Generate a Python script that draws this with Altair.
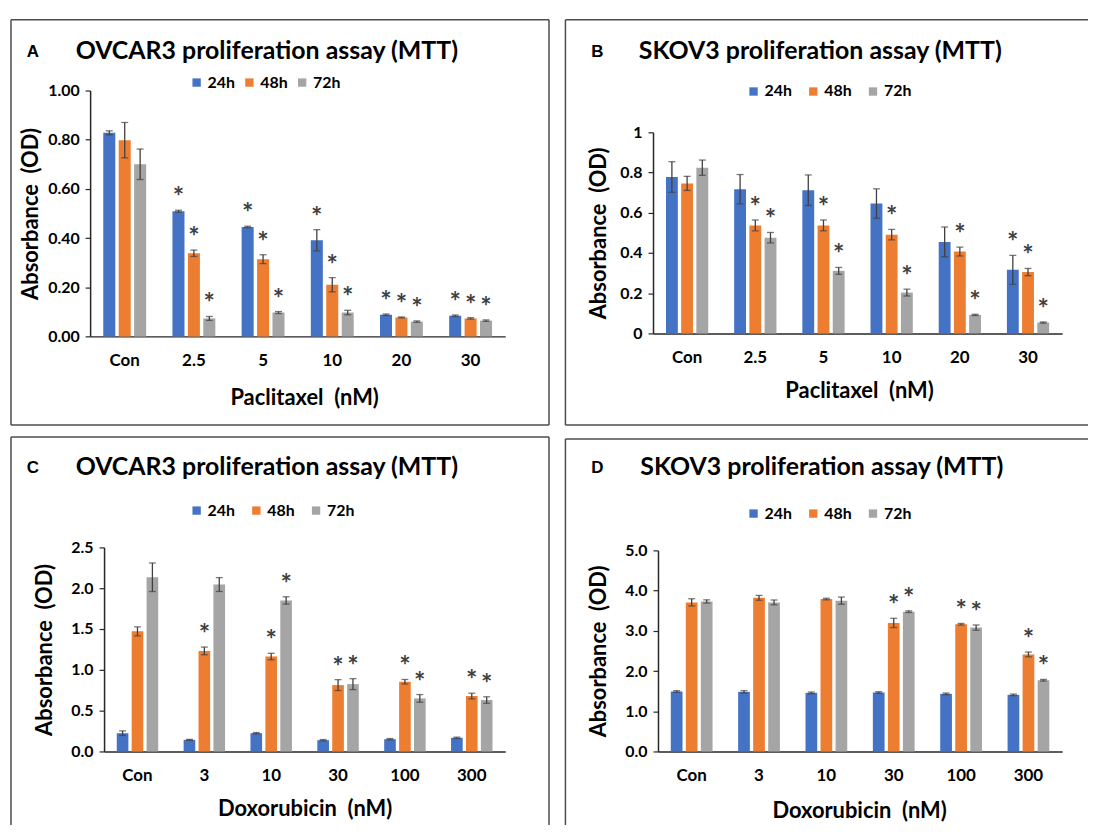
import altair as alt
import pandas as pd

times = ["24h", "48h", "72h"]
colors = ["#4472C4", "#ED7D31", "#A5A5A5"]

pac_doses = ["Con", "2.5", "5", "10", "20", "30"]
dox_doses = ["Con", "3", "10", "30", "100", "300"]

A_24 = [0.828, 0.509, 0.445, 0.391, 0.088, 0.084]
A_24_err = [0.008, 0.004, 0.003, 0.043, 0.003, 0.003]
A_48 = [0.798, 0.338, 0.314, 0.210, 0.077, 0.073]
A_48_err = [0.072, 0.013, 0.018, 0.029, 0.002, 0.003]
A_72 = [0.700, 0.073, 0.097, 0.097, 0.060, 0.064]
A_72_err = [0.062, 0.008, 0.004, 0.009, 0.003, 0.003]
A_sig_24 = [0, 1, 1, 1, 1, 1]
A_sig_48 = [0, 1, 1, 1, 1, 1]
A_sig_72 = [0, 1, 1, 1, 1, 1]

B_24 = [0.778, 0.717, 0.712, 0.646, 0.455, 0.316]
B_24_err = [0.076, 0.073, 0.076, 0.073, 0.074, 0.072]
B_48 = [0.746, 0.537, 0.537, 0.491, 0.407, 0.305]
B_48_err = [0.035, 0.027, 0.027, 0.026, 0.022, 0.018]
B_72 = [0.824, 0.476, 0.311, 0.203, 0.092, 0.054]
B_72_err = [0.038, 0.026, 0.017, 0.017, 0.003, 0.003]
B_sig_24 = [0, 0, 0, 0, 0, 1]
B_sig_48 = [0, 1, 1, 1, 1, 1]
B_sig_72 = [0, 1, 1, 1, 1, 1]

C_24 = [0.224, 0.142, 0.224, 0.138, 0.150, 0.167]
C_24_err = [0.028, 0.006, 0.008, 0.008, 0.008, 0.008]
C_48 = [1.472, 1.232, 1.163, 0.813, 0.854, 0.679]
C_48_err = [0.055, 0.047, 0.040, 0.067, 0.028, 0.035]
C_72 = [2.134, 2.045, 1.850, 0.825, 0.650, 0.630]
C_72_err = [0.175, 0.085, 0.045, 0.067, 0.047, 0.040]
C_sig_24 = [0, 0, 0, 0, 0, 0]
C_sig_48 = [0, 1, 1, 1, 1, 1]
C_sig_72 = [0, 0, 1, 1, 1, 1]

D_24 = [1.491, 1.483, 1.458, 1.466, 1.433, 1.408]
D_24_err = [0.02, 0.03, 0.02, 0.02, 0.02, 0.02]
D_48 = [3.707, 3.820, 3.790, 3.196, 3.163, 2.413]
D_48_err = [0.09, 0.06, 0.02, 0.115, 0.02, 0.06]
D_72 = [3.730, 3.707, 3.750, 3.476, 3.080, 1.771]
D_72_err = [0.04, 0.06, 0.09, 0.02, 0.065, 0.02]
D_sig_24 = [0, 0, 0, 0, 0, 0]
D_sig_48 = [0, 0, 0, 1, 1, 1]
D_sig_72 = [0, 0, 0, 1, 1, 1]

FONT = "Lato"
TXT = "#000000"
DARK = "#404040"
FRAME = "#4d4d4d"
SP = "\u00a0 "


def long_df(cats, means, errs, sigs):
    rows = []
    for t, m, e, s in zip(times, means, errs, sigs):
        for c, mv, ev, sv in zip(cats, m, e, s):
            rows.append({"dose": c, "time": t, "mean": mv,
                         "lo": mv - ev, "hi": mv + ev, "sig": sv})
    return pd.DataFrame(rows)


one = pd.DataFrame({"k": [0]})


def hrule(x1, x2, y):
    return alt.Chart(one).mark_rule(color=FRAME, strokeWidth=1.5).encode(
        x=alt.value(x1), x2=alt.value(x2), y=alt.value(y))


def vrule(x, y1, y2):
    return alt.Chart(one).mark_rule(color=FRAME, strokeWidth=1.5).encode(
        x=alt.value(x), y=alt.value(y1), y2=alt.value(y2))


def panel(letter, title, df, cats, ymax, yvals, yfmt, xtitle, g, borders):
    W, H = g["W"], g["H"]
    x_scale = alt.Scale(domain=cats, range=[g["x0"], g["x1"]],
                        paddingInner=0.38, paddingOuter=0.19)
    y_scale = alt.Scale(domain=[0, ymax], range=[g["y0"], g["y1"]], nice=False)
    xo_scale = alt.Scale(domain=times, paddingInner=0.22, paddingOuter=0)

    x_axis = alt.Axis(
        title=xtitle, orient="bottom", offset=g["y0"] - H, ticks=False, tickSize=0,
        labelPadding=16, labelAngle=0, labelFont=FONT, labelFontSize=17,
        labelFontWeight="bold", labelColor=TXT, domainColor="#262626",
        domainWidth=1.5, grid=False, titleFont=FONT, titleFontSize=22,
        titleFontWeight="bold", titleColor=TXT, titleX=g["xtx"], titleY=g["xty"],
        titleBaseline="middle", titleAlign="center")
    y_axis = alt.Axis(
        title="Absorbance" + SP + "(OD)", orient="left", offset=-g["x0"], values=yvals,
        format=yfmt, tickSize=5, tickColor="#262626", tickWidth=1.2,
        labelPadding=6, labelFont=FONT, labelFontSize=16, labelFontWeight="bold",
        labelColor=TXT, labelFlush=False, labelOverlap=False,
        domainColor="#262626", domainWidth=1.5, grid=False,
        titleFont=FONT, titleFontSize=22, titleFontWeight="bold", titleColor=TXT,
        titleX=g["ytx"] - g["x0"], titleBaseline="middle", titleAngle=270)

    X = alt.X("dose:N", scale=x_scale, axis=x_axis, sort=cats)
    XO = alt.XOffset("time:N", scale=xo_scale, sort=times)

    bars = alt.Chart(df).mark_bar().encode(
        x=X, xOffset=XO,
        y=alt.Y("mean:Q", scale=y_scale, axis=y_axis),
        color=alt.Color("time:N", scale=alt.Scale(domain=times, range=colors),
                        legend=alt.Legend(
                            orient="none", legendX=g["lx"], legendY=g["ly"],
                            direction="horizontal", title=None, symbolType="square",
                            symbolSize=70, symbolStrokeWidth=0, labelFont=FONT,
                            labelFontSize=16, labelFontWeight="bold", labelColor=TXT,
                            columnPadding=g["cp"], labelOffset=3, padding=0)),
    )
    err = alt.Chart(df).mark_rule(color=DARK, strokeWidth=1.3).encode(
        x=X, xOffset=XO,
        y=alt.Y("lo:Q", scale=y_scale, axis=y_axis), y2="hi:Q")
    cap_hi = alt.Chart(df).mark_tick(color=DARK, thickness=1.3, size=7).encode(
        x=X, xOffset=XO, y=alt.Y("hi:Q", scale=y_scale, axis=y_axis))
    cap_lo = alt.Chart(df).mark_tick(color=DARK, thickness=1.3, size=7).encode(
        x=X, xOffset=XO, y=alt.Y("lo:Q", scale=y_scale, axis=y_axis))
    stars = alt.Chart(df).transform_filter("datum.sig == 1").mark_text(
        text="*", font=FONT, fontSize=27, fontWeight="bold", color=DARK,
        baseline="alphabetic", dy=-4).encode(
        x=X, xOffset=XO, y=alt.Y("hi:Q", scale=y_scale, axis=y_axis))

    ttl = alt.Chart(pd.DataFrame({"t": [title]})).mark_text(
        font=FONT, fontSize=25, fontWeight="bold", color=TXT, align="center",
        baseline="middle").encode(x=alt.value(g["tx"]), y=alt.value(g["ty"]), text="t:N")
    let = alt.Chart(pd.DataFrame({"t": [letter]})).mark_text(
        font="Liberation Sans", fontSize=17, fontWeight="bold", color=TXT,
        align="center", baseline="middle").encode(
        x=alt.value(g["lettx"]), y=alt.value(g["ty"] + 1), text="t:N")

    layers = [bars, err, cap_hi, cap_lo, stars, ttl, let]
    top = g.get("top", 0)
    if "top" in borders:
        layers.append(hrule(0, W, top))
    if "left" in borders:
        layers.append(vrule(0, top, H))
    if "right" in borders:
        layers.append(vrule(W, top, H))
    if "bottom" in borders:
        layers.append(hrule(0, W, H))
    return alt.layer(*layers).properties(width=W, height=H, view=alt.ViewBackground(stroke=None, strokeWidth=0))


gA = dict(W=540.5, H=407, x0=79.5, x1=496.5, y0=318, y1=71, xtx=294.5, xty=61,
          ytx=19.5, lx=178.5, ly=55, cp=6, tx=257, ty=31, lettx=22)
gB = dict(W=525, H=407, x0=88, x1=499, y0=315, y1=113, xtx=295, xty=57,
          ytx=33, lx=181, ly=64, cp=13, tx=256, ty=31, lettx=32)
gC = dict(W=540.5, H=390, x0=93.5, x1=496.5, y0=316, y1=111, xtx=295, xty=57,
          ytx=34, lx=178.5, ly=66, cp=13, tx=257, ty=30, lettx=22)
gD = dict(W=525, H=390, x0=93, x1=499, y0=316, y1=114, xtx=295, xty=59,
          ytx=33, lx=181, ly=69, cp=13, tx=257.5, ty=30, lettx=32, top=2)

pA = panel("A", "OVCAR3 proliferation assay (MTT)",
           long_df(pac_doses, [A_24, A_48, A_72], [A_24_err, A_48_err, A_72_err],
                   [A_sig_24, A_sig_48, A_sig_72]),
           pac_doses, 1.0, [0, 0.2, 0.4, 0.6, 0.8, 1.0], ".2f", "Paclitaxel" + SP + "(nM)", gA,
           ["top", "left", "right", "bottom"])
pB = panel("B", "SKOV3 proliferation assay (MTT)",
           long_df(pac_doses, [B_24, B_48, B_72], [B_24_err, B_48_err, B_72_err],
                   [B_sig_24, B_sig_48, B_sig_72]),
           pac_doses, 1.0, [0, 0.2, 0.4, 0.6, 0.8, 1.0], "~g", "Paclitaxel" + SP + "(nM)", gB,
           ["top", "left", "bottom"])
pC = panel("C", "OVCAR3 proliferation assay (MTT)",
           long_df(dox_doses, [C_24, C_48, C_72], [C_24_err, C_48_err, C_72_err],
                   [C_sig_24, C_sig_48, C_sig_72]),
           dox_doses, 2.5, [0, 0.5, 1.0, 1.5, 2.0, 2.5], ".1f", "Doxorubicin" + SP + "(nM)", gC,
           ["top", "left", "right"])
pD = panel("D", "SKOV3 proliferation assay (MTT)",
           long_df(dox_doses, [D_24, D_48, D_72], [D_24_err, D_48_err, D_72_err],
                   [D_sig_24, D_sig_48, D_sig_72]),
           dox_doses, 5.0, [0, 1, 2, 3, 4, 5], ".1f", "Doxorubicin" + SP + "(nM)", gD,
           ["top", "left"])

chart = alt.concat(pA, pB, pC, pD, columns=2, spacing={"row": 12, "column": 16},
                   bounds="flush").resolve_scale(
    color="independent", x="independent", y="independent",
    xOffset="independent").resolve_legend(color="independent").properties(
    padding={"left": 2, "top": 9, "right": 0, "bottom": 0}).configure_view(
    stroke=None, strokeWidth=0).configure(background="white")

chart.save("out.html", embed_options={"renderer": "svg", "actions": False})
